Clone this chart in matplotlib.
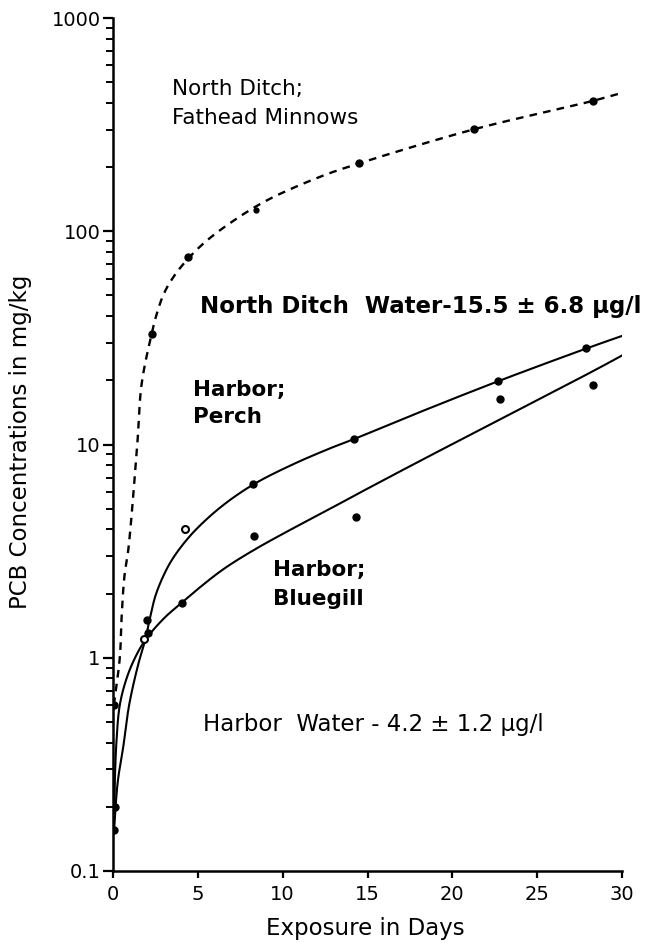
import numpy as np
import matplotlib
matplotlib.use("Agg")
import matplotlib.pyplot as plt
from matplotlib.ticker import LogLocator, FixedLocator, NullFormatter, FixedFormatter

# ---- measured concentrations (days, mg/kg) ----
fathead_days = [0.05, 2.3, 4.4, 14.5, 21.3, 28.3]
fathead_vals = [0.6, 33, 76, 208, 301, 409]
fathead_odd_days = [8.4]
fathead_odd_vals = [126]

perch_days = [0.12, 2.0, 8.27, 14.2, 22.7, 27.9]
perch_vals = [0.2, 1.51, 6.5, 10.6, 19.8, 28.2]
perch_open_days = [4.25]
perch_open_vals = [4.0]

bluegill_days = [0.05, 2.05, 4.05, 8.3, 14.3, 22.8, 28.3]
bluegill_vals = [0.155, 1.3, 1.81, 3.74, 4.59, 16.3, 19.1]
bluegill_open_days = [1.8]
bluegill_open_vals = [1.22]

# ---- fitted uptake curves (knots) ----
fathead_fit_days = [0.05, 0.4, 0.51, 0.67, 0.9, 1.43, 1.69, 2.3, 2.58, 3.0, 3.56,
                    4.4, 5.5, 7.1, 9.1, 12.2, 14.5, 21.3, 28.3, 30.1]
fathead_fit_vals = [0.6, 1.0, 1.56, 2.4, 3.2, 10, 19.3, 33.6, 41, 51, 61,
                    74, 90, 112, 140, 180, 208, 301, 409, 448]

perch_fit_days = [0.05, 0.15, 0.3, 0.6, 0.95, 1.5, 1.9, 2.15, 2.5, 3.0, 3.5, 4.25,
                  5.1, 6.5, 8.28, 10.5, 12.8, 14.2, 18, 22.7, 27.9, 30.1]
perch_fit_vals = [0.15, 0.2, 0.27, 0.38, 0.6, 0.94, 1.21, 1.5, 1.95, 2.45, 2.9, 3.5,
                  4.15, 5.2, 6.5, 8.0, 9.6, 10.6, 14.1, 19.8, 28.2, 32.5]

bluegill_fit_days = [0.05, 0.1, 0.2, 0.4, 0.8, 1.3, 1.9, 3.0, 4.05, 5.0, 6.5, 8.3,
                     10.5, 12.8, 14.3, 18, 22.8, 28.3, 30.1]
bluegill_fit_vals = [0.15, 0.25, 0.4, 0.6, 0.8, 1.0, 1.21, 1.53, 1.81, 2.1, 2.6, 3.2,
                     4.0, 5.0, 5.8, 8.3, 13.1, 22.1, 26.4]

x_ticks = [0, 5, 10, 15, 20, 25, 30]
y_ticks = [0.1, 1, 10, 100, 1000]
y_tick_labels = ["0.1", "1", "10", "100", "1000"]

W, H = 661, 943


def smooth_curve(days, vals, n=40):
    """Centripetal Catmull-Rom through knots, in an isotropic (day, log10) space."""
    sx, sy = 16.95, 213.0
    P = np.column_stack([np.asarray(days) * sx, np.log10(vals) * sy])
    P = np.vstack([2 * P[0] - P[1], P, 2 * P[-1] - P[-2]])
    out = []
    for i in range(1, len(P) - 2):
        p0, p1, p2, p3 = P[i - 1], P[i], P[i + 1], P[i + 2]
        t0 = 0.0
        t1 = t0 + np.linalg.norm(p1 - p0) ** 0.5 + 1e-9
        t2 = t1 + np.linalg.norm(p2 - p1) ** 0.5 + 1e-9
        t3 = t2 + np.linalg.norm(p3 - p2) ** 0.5 + 1e-9
        t = np.linspace(t1, t2, n)[:, None]
        a1 = (t1 - t) / (t1 - t0) * p0 + (t - t0) / (t1 - t0) * p1
        a2 = (t2 - t) / (t2 - t1) * p1 + (t - t1) / (t2 - t1) * p2
        a3 = (t3 - t) / (t3 - t2) * p2 + (t - t2) / (t3 - t2) * p3
        b1 = (t2 - t) / (t2 - t0) * a1 + (t - t0) / (t2 - t0) * a2
        b2 = (t3 - t) / (t3 - t1) * a2 + (t - t1) / (t3 - t1) * a3
        c = (t2 - t) / (t2 - t1) * b1 + (t - t1) / (t2 - t1) * b2
        out.append(c if i == 1 else c[1:])
    C = np.vstack(out)
    return C[:, 0] / sx, 10 ** (C[:, 1] / sy)


plt.rcParams["font.family"] = ["DejaVu Sans"]
plt.rcParams["lines.scale_dashes"] = False

fig = plt.figure(figsize=(W / 100, H / 100), dpi=100)
ax = fig.add_axes([113 / W, 1 - 871 / H, (622 - 113) / W, (871 - 18) / H])
ax.set_yscale("log")
ax.set_xlim(0, 30)
ax.set_ylim(0.1, 1000)

lw = 1.5
fx, fy = smooth_curve(fathead_fit_days, fathead_fit_vals)
ax.plot(fx, fy, color="black", lw=1.7, linestyle=(0, (5.5, 4.5)), solid_capstyle="butt")
px_, py_ = smooth_curve(perch_fit_days, perch_fit_vals)
ax.plot(px_, py_, color="black", lw=lw)
bx, by = smooth_curve(bluegill_fit_days, bluegill_fit_vals)
ax.plot(bx, by, color="black", lw=lw)

ms = 5
for d, v in [(fathead_days, fathead_vals), (perch_days, perch_vals), (bluegill_days, bluegill_vals)]:
    ax.plot(d, v, "o", color="black", ms=ms, zorder=5)
ax.plot(fathead_odd_days, fathead_odd_vals, "o", color="black", ms=3.5, zorder=5)
for d, v in [(perch_open_days, perch_open_vals), (bluegill_open_days, bluegill_open_vals)]:
    ax.plot(d, v, "o", mfc="white", mec="black", mew=1.5, ms=ms, zorder=5)

for s in ["top", "right"]:
    ax.spines[s].set_visible(False)
for s in ["left", "bottom"]:
    ax.spines[s].set_linewidth(1.8)

ax.xaxis.set_major_locator(FixedLocator(x_ticks))
ax.set_xticklabels([str(t) for t in x_ticks])
ax.yaxis.set_major_locator(FixedLocator(y_ticks))
ax.yaxis.set_major_formatter(FixedFormatter(y_tick_labels))
ax.yaxis.set_minor_locator(LogLocator(base=10, subs=np.arange(2, 10)))
ax.yaxis.set_minor_formatter(NullFormatter())
ax.tick_params(axis="y", which="major", direction="out", length=7, width=1.6,
               labelsize=14, pad=2)
ax.tick_params(axis="y", which="minor", direction="out", length=5, width=1.4)
ax.tick_params(axis="x", which="major", direction="out", length=5, width=1.6,
               labelsize=14, pad=5)

def ftext(x, y, s, **kw):
    fig.text(x / W, 1 - y / H, s, **kw)

ftext(172, 89, "North Ditch;", fontsize=15.5, va="center", ha="left")
ftext(172, 118, "Fathead Minnows", fontsize=15.5, va="center", ha="left")
ftext(200, 306, "North Ditch  Water-15.5 \u00b1 6.8 \u00b5g/l", fontsize=16.5,
      fontweight="bold", va="center", ha="left")
ftext(193, 390, "Harbor;", fontsize=15.5, fontweight="bold", va="center", ha="left")
ftext(193, 417, "Perch", fontsize=15.5, fontweight="bold", va="center", ha="left")
ftext(273, 570, "Harbor;", fontsize=15.5, fontweight="bold", va="center", ha="left")
ftext(273, 599, "Bluegill", fontsize=15.5, fontweight="bold", va="center", ha="left")
ftext(203, 724, "Harbor  Water - 4.2 \u00b1 1.2 \u00b5g/l", fontsize=16.5,
      va="center", ha="left")

ftext(21, 442, "PCB Concentrations in mg/kg", fontsize=16.5, rotation=90,
      va="center", ha="center")
ftext(365, 929, "Exposure in Days", fontsize=16.5, va="center", ha="center")

fig.savefig("out.png", dpi=100)
